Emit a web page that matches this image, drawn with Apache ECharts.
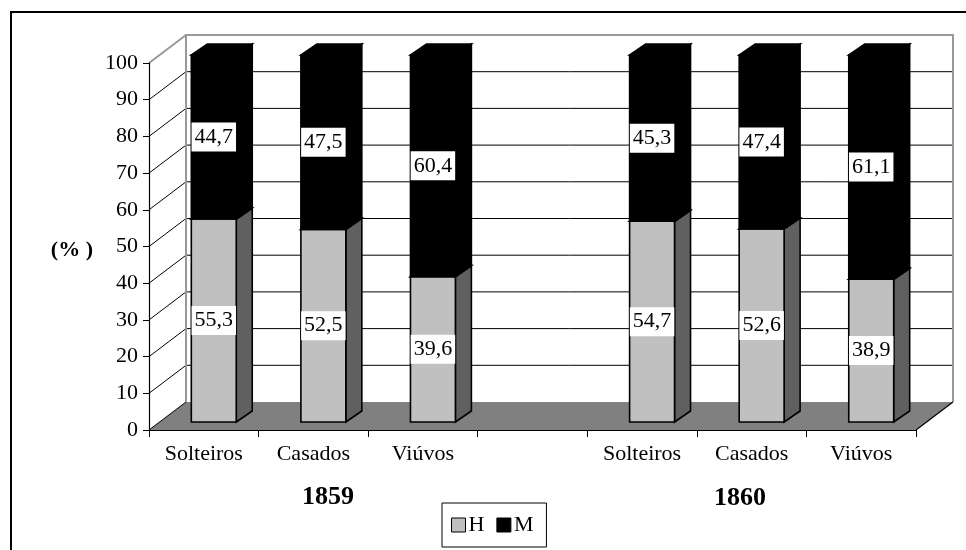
<!DOCTYPE html>
<html>
<head>
<meta charset="utf-8">
<script src="https://cdn.jsdelivr.net/npm/echarts@6/dist/echarts.min.js"></script>
<style>
html,body{margin:0;padding:0;background:#fff;}
#chart{width:966px;height:550px;}
</style>
</head>
<body>
<div id="chart"></div>
<script>
// ---- data ----
const categories = ['Solteiros', 'Casados', 'Viúvos', '', 'Solteiros', 'Casados', 'Viúvos'];
const valuesH = [55.3, 52.5, 39.6, null, 54.7, 52.6, 38.9];
const valuesM = [44.7, 47.5, 60.4, null, 45.3, 47.4, 61.1];
const yTicks = [0, 10, 20, 30, 40, 50, 60, 70, 80, 90, 100];
const years = ['1859', '1860'];
const seriesNames = ['H', 'M'];

// ---- styling / projection ----
const FONT = '"Liberation Serif", "Times New Roman", serif';
const WALL_DX = 37, WALL_DY = -28;       // front plane -> back wall
const OFF_DX = 10, OFF_DY = -8;          // front plane -> bar front face
const BAR_DX = 16, BAR_DY = -11;         // bar depth
const BAR_W = 0.41;                      // share of the category band

function fmt(v) { return v.toFixed(1).replace('.', ','); }

function renderBackground(params, api) {
  const cs = params.coordSys;
  const xL = cs.x, xR = cs.x + cs.width;
  const y0 = api.coord([0, 0])[1];
  const yTop = api.coord([0, 100])[1];
  const ch = [];
  ch.push({type: 'polygon', shape: {points: [[xL, y0], [xR, y0], [xR + WALL_DX, y0 + WALL_DY], [xL + WALL_DX, y0 + WALL_DY]]},
    style: {fill: '#808080'}});
  yTicks.forEach(function (v) {
    const y = api.coord([0, v])[1];
    if (v > 0 && v < 100) {
      ch.push({type: 'line', shape: {x1: xL + WALL_DX, y1: y + WALL_DY, x2: xR + WALL_DX, y2: y + WALL_DY},
        style: {stroke: '#000', lineWidth: 1}});
    }
    ch.push({type: 'line', shape: {x1: xL, y1: y, x2: xL + WALL_DX, y2: y + WALL_DY},
      style: {stroke: v === 100 ? '#999' : '#000', lineWidth: v === 100 ? 2 : 1}});
  });
  // wall edges
  ch.push({type: 'polyline', shape: {points: [[xL + WALL_DX, y0 + WALL_DY], [xL + WALL_DX, yTop + WALL_DY], [xR + WALL_DX, yTop + WALL_DY], [xR + WALL_DX, y0 + WALL_DY]]},
    style: {stroke: '#999', lineWidth: 2, fill: null}});
  ch.push({type: 'line', shape: {x1: xR, y1: y0, x2: xR + WALL_DX, y2: y0 + WALL_DY},
    style: {stroke: '#000', lineWidth: 1.2}});
  return {type: 'group', children: ch};
}

function makeBarRenderer(front, side, stroke) {
  return function (params, api) {
    const idx = api.value(0);
    const lo = api.value(1), hi = api.value(2), lab = api.value(3);
    const pLo = api.coord([idx, lo]);
    const pHi = api.coord([idx, hi]);
    const w = api.size([1, 0])[0] * BAR_W;
    const cx = pLo[0] + OFF_DX;
    const xl = cx - w / 2, xr = cx + w / 2;
    const yb = pLo[1] + OFF_DY, yt = pHi[1] + OFF_DY;
    const st = {stroke: stroke, lineWidth: 1.6, lineJoin: 'miter'};
    const ch = [
      {type: 'polygon', shape: {points: [[xr, yb], [xr + BAR_DX, yb + BAR_DY], [xr + BAR_DX, yt + BAR_DY], [xr, yt]]},
        style: Object.assign({fill: side}, st)},
      {type: 'polygon', shape: {points: [[xl, yt], [xr, yt], [xr + BAR_DX, yt + BAR_DY], [xl + BAR_DX, yt + BAR_DY]]},
        style: Object.assign({fill: front}, st)},
      {type: 'rect', shape: {x: xl, y: yt, width: w, height: yb - yt},
        style: Object.assign({fill: front}, st)},
      {type: 'text', style: {text: fmt(lab), x: cx, y: (yb + yt) / 2, align: 'center', verticalAlign: 'middle',
        fontFamily: FONT, fontSize: 22, fill: '#000', backgroundColor: '#fff', padding: [4, 3, 3, 3]}}
    ];
    return {type: 'group', children: ch};
  };
}

const dataH = [], dataM = [];
categories.forEach(function (c, i) {
  if (valuesH[i] != null) dataH.push([i, 0, valuesH[i], valuesH[i]]);
  if (valuesM[i] != null) dataM.push([i, valuesH[i], valuesH[i] + valuesM[i], valuesM[i]]);
});

const chart = echarts.init(document.getElementById('chart'), null, {renderer: 'canvas'});
chart.setOption({
  animation: false,
  backgroundColor: '#fff',
  grid: {left: 149, right: 50, top: 63, bottom: 120},
  xAxis: {
    type: 'category', data: categories, z: 10,
    axisLine: {lineStyle: {color: '#000', width: 1.2}},
    axisTick: {show: true, interval: 0, length: 7, lineStyle: {color: '#000'}},
    axisLabel: {interval: 0, margin: 13, color: '#000', fontFamily: FONT, fontSize: 22},
    splitLine: {show: false}
  },
  yAxis: {
    type: 'value', min: 0, max: 100, interval: 10, z: 10,
    axisLine: {show: true, lineStyle: {color: '#000', width: 1.2}},
    axisTick: {show: true, length: 6, lineStyle: {color: '#000'}},
    axisLabel: {margin: 11, color: '#000', fontFamily: FONT, fontSize: 22},
    splitLine: {show: false}
  },
  legend: {
    left: 442, top: 503, icon: 'rect', itemWidth: 14, itemHeight: 14, itemGap: 12,
    padding: [11, 13, 11, 9], borderColor: '#000', borderWidth: 1, backgroundColor: '#fff',
    selectedMode: false,
    textStyle: {fontFamily: FONT, fontSize: 22, color: '#000', padding: [0, 0, 0, -2]},
    itemStyle: {borderColor: '#000', borderWidth: 1},
    data: [{name: seriesNames[0], itemStyle: {color: '#c0c0c0'}}, {name: seriesNames[1], itemStyle: {color: '#000'}}]
  },
  graphic: [
    {type: 'rect', z: -10, shape: {x: 11, y: 12, width: 1000, height: 600}, style: {fill: 'none', stroke: '#000', lineWidth: 2}},
    {type: 'text', style: {text: '(% )', x: 93, y: 250, align: 'right', verticalAlign: 'middle', fontFamily: FONT, fontSize: 22, fontWeight: 'bold', fill: '#000'}},
    {type: 'text', style: {text: years[0], x: 328, y: 497, align: 'center', verticalAlign: 'middle', fontFamily: FONT, fontSize: 26, fontWeight: 'bold', fill: '#000'}},
    {type: 'text', style: {text: years[1], x: 740, y: 498, align: 'center', verticalAlign: 'middle', fontFamily: FONT, fontSize: 26, fontWeight: 'bold', fill: '#000'}}
  ],
  series: [
    {type: 'custom', name: 'bg', silent: true, z: 1, data: [[0, 0]], encode: {x: 0, y: 1}, renderItem: renderBackground},
    {type: 'custom', name: seriesNames[0], z: 2, itemStyle: {color: '#c0c0c0'}, data: dataH, encode: {x: 0, y: [1, 2]},
      renderItem: makeBarRenderer('#c0c0c0', '#606060', '#000')},
    {type: 'custom', name: seriesNames[1], z: 3, itemStyle: {color: '#000'}, data: dataM, encode: {x: 0, y: [1, 2]},
      renderItem: makeBarRenderer('#000', '#000', '#000')}
  ]
});
</script>
</body>
</html>
